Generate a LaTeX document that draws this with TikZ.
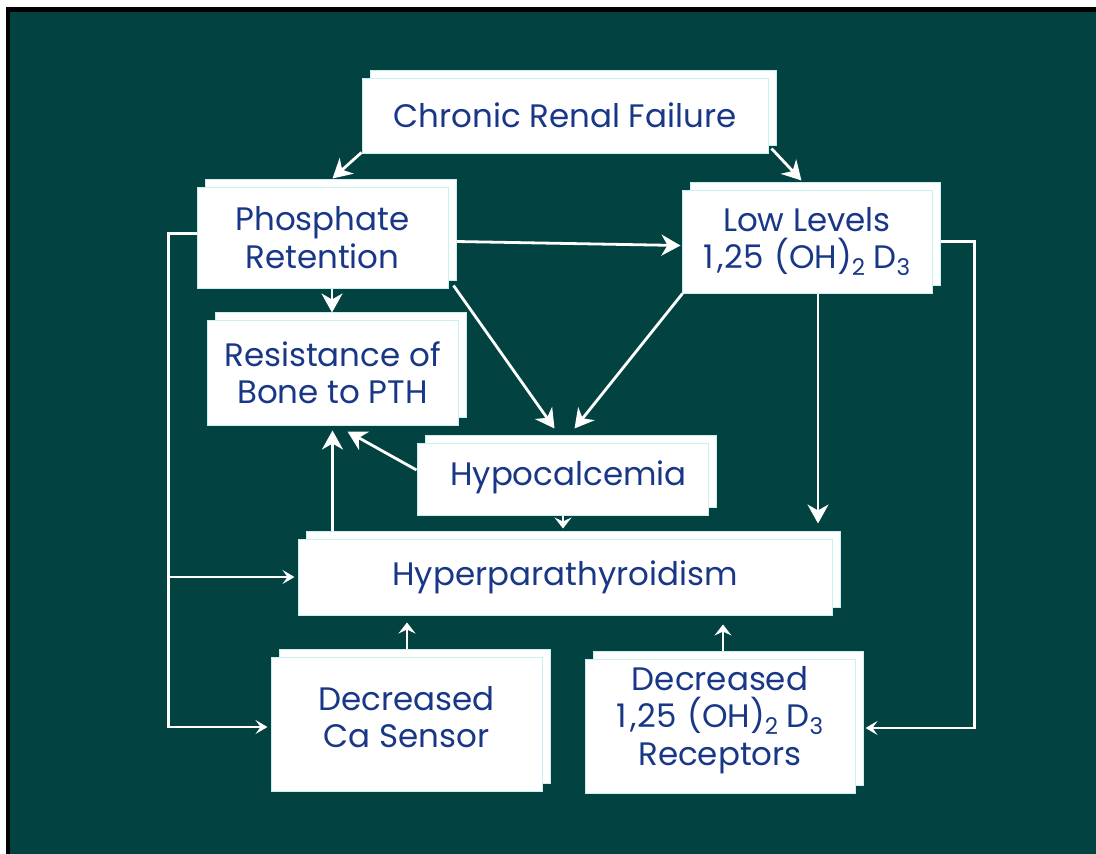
\documentclass[tikz,border=0pt]{standalone}
\usepackage{fontspec}
\setmainfont{Poppins}
\usetikzlibrary{arrows.meta,calc,shadows}
\definecolor{bgteal}{RGB}{2,66,64}
\definecolor{txtblue}{RGB}{25,55,135}
\definecolor{edgecyan}{RGB}{200,240,240}
\newcommand\lsub[1]{\raisebox{-7pt}{\fontsize{23}{23}\selectfont#1}}
\newcommand\ohd{1\kern3pt,\kern1pt25\kern2pt\ (OH)\lsub{2}\ D\lsub{3}}
\begin{document}
\begin{tikzpicture}[x=1pt,y=-1pt,
  boxtext/.style={align=center, text=txtblue, font=\fontsize{32.5}{37.5}\selectfont, inner sep=0pt},
  boxnode/.style={rectangle, fill=white, draw=edgecyan, line width=1pt, boxtext,
    copy shadow={shadow xshift=8pt, shadow yshift=8pt, fill=white, draw=edgecyan, line width=1pt}},
  conn/.style={draw=white, line width=2.8pt, line join=miter,
    -{Stealth[length=19pt,width=21pt,inset=6pt]}},
  shortconn/.style={draw=white, line width=2.6pt,
    -{Stealth[length=11pt,width=17pt,inset=4pt]}},
  busline/.style={draw=white, line width=2.4pt, line join=miter,
    -{Stealth[length=12pt,width=14pt,inset=5pt]}},
]
\useasboundingbox (0,0) rectangle (1096,854);
\fill[white] (0,0) rectangle (1096,854);
\fill[black] (6,7) rectangle (1100,858);
\fill[bgteal] (10,12) rectangle (1100,858);

\node[boxnode, minimum width=406pt, minimum height=75pt] (crf) at (565,115.5) {Chronic Renal Failure};
\node[boxnode, minimum width=251pt, minimum height=101pt] (phos) at (322.5,237.5) {Phosphate\\Retention};
\node[boxnode, minimum width=251pt, minimum height=105pt] (res) at (332.5,372.5) {Resistance of\\Bone to PTH};
\node[boxnode, minimum width=250pt, minimum height=103pt] (low) at (807,241.5) {Low Levels\\\ohd};
\node[boxnode, minimum width=291pt, minimum height=72pt,
  label={[boxtext, xshift=6pt, yshift=2pt]center:Hypocalcemia}] (hypo) at (562.5,479) {};
\node[boxnode, minimum width=534pt, minimum height=76pt] (hyper) at (565,577) {Hyperparathyroidism};
\node[boxnode, minimum width=271pt, minimum height=134pt,
  label={[boxtext, yshift=7pt]center:{Decreased\\Ca Sensor}}] (ca) at (406.5,724) {};
\node[boxnode, minimum width=270pt, minimum height=134pt,
  label={[boxtext, yshift=6pt]center:{Decreased\\\ohd\\Receptors}}] (rec) at (720,726) {};

\draw[conn] ($(crf.south west)+(0,-1)$) -- ($(phos.north west)+(136,-8)$);
\draw[conn] ($(crf.south east)+(3,-5)$) -- ($(low.north west)+(120,-9)$);
\draw[conn] ($(phos.east)+(8,4)$) -- ($(low.west)+(-1,4)$);
\draw[conn] ($(phos.south)+(9.5,0)$) -- ($(res.north)+(-0.5,-7)$);
\draw[conn] ($(phos.south east)+(5,-3)$) -- ($(hypo.north west)+(138,-14)$);
\draw[conn] ($(low.south west)+(1,0)$) -- ($(hypo.north west)+(158,-14)$);
\draw[conn] ($(low.south)+(11,0)$) -- ($(hyper.north)+(253,-15)$);
\draw[conn] ($(hypo.west)+(0,-9)$) -- ($(res.south east)+(-111,6)$);
\draw[shortconn] ($(hypo.south)+(0.5,0)$) -- ($(hyper.north)+(-2,-10)$);
\draw[conn] ($(hyper.north west)+(35,-8)$) -- ($(res.south west)+(126,5)$);
\draw[busline] ($(phos.west)+(0,-4)$) -| ($(ca.west)+(-102,3)$) -- ($(ca.west)+(-3,3)$);
\draw[busline] ($(hyper.west)+(-129,0)$) -- ($(hyper.west)+(-3,0)$);
\draw[shortconn] ($(ca.north)+(0.5,-8)$) -- ($(hyper.south)+(-158,7)$);
\draw[shortconn] ($(rec.north)+(3,-8)$) -- ($(hyper.south)+(158,9)$);
\draw[busline] ($(low.east)+(8,0)$) -| ($(rec.east)+(119,2)$) -- ($(rec.east)+(10,2)$);
\end{tikzpicture}
\end{document}
